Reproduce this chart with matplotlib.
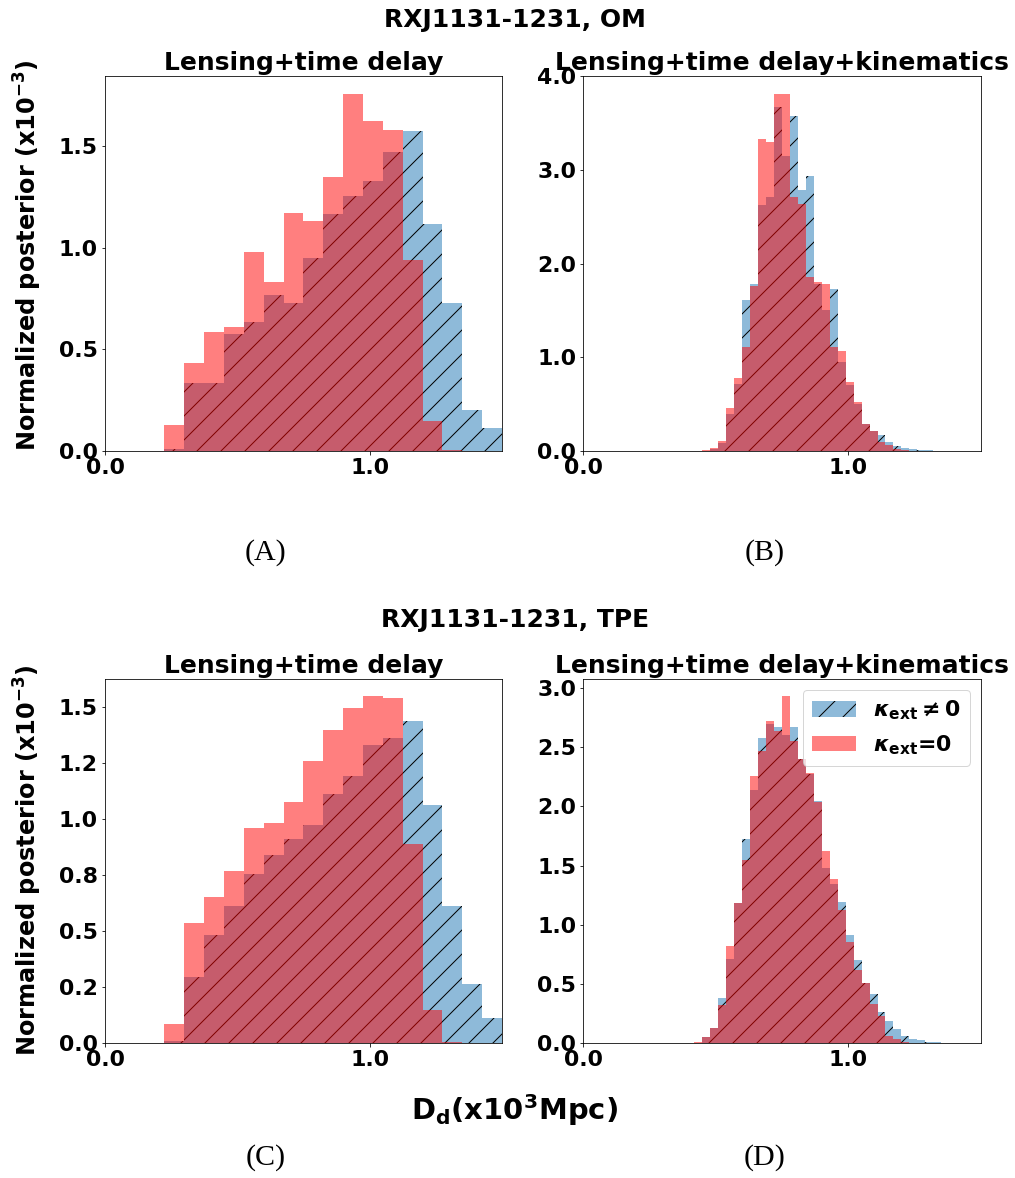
import numpy as np
import matplotlib.pyplot as plt
from matplotlib.ticker import MultipleLocator, FormatStrFormatter

plt.rcParams['font.weight'] = 'bold'
plt.rcParams['axes.titleweight'] = 'bold'

# bin edges in units of 10^3 Mpc
coarse_edges = np.linspace(0.225, 1.5, 18)
fine_edges_om = np.linspace(0.45, 1.32, 30)
fine_edges_tpe = np.linspace(0.42, 1.35, 32)

# OM model, lensing + time delay
om_td_kext = [0.01, 0.334, 0.334, 0.574, 0.633, 0.767, 0.726, 0.948, 1.164,
              1.257, 1.33, 1.469, 1.574, 1.115, 0.73, 0.2, 0.115]
om_td_k0 = [0.126, 0.433, 0.584, 0.61, 0.98, 0.834, 1.172, 1.13, 1.346,
            1.757, 1.626, 1.58, 0.938, 0.146, 0.007, 0, 0]

# OM model, lensing + time delay + kinematics
om_tdk_kext = [0.005, 0.02, 0.09, 0.40, 0.72, 1.61, 1.78, 2.62, 2.71, 3.67,
               3.15, 3.57, 2.78, 2.93, 1.78, 1.50, 1.73, 0.95, 0.70, 0.50,
               0.29, 0.21, 0.167, 0.096, 0.05, 0.03, 0.018, 0.01, 0.008]
om_tdk_k0 = [0.01, 0.03, 0.11, 0.46, 0.78, 1.11, 1.76, 3.33, 3.30, 3.81,
             3.81, 2.71, 2.64, 1.86, 1.80, 1.78, 1.11, 1.07, 0.74, 0.52,
             0.29, 0.21, 0.10, 0.06, 0.025, 0.01, 0, 0, 0]

# TPE model, lensing + time delay
tpe_td_kext = [0.01, 0.295, 0.484, 0.61, 0.755, 0.837, 0.911, 0.973, 1.11,
               1.19, 1.332, 1.36, 1.435, 1.062, 0.61, 0.264, 0.11]
tpe_td_k0 = [0.086, 0.534, 0.651, 0.766, 0.961, 0.982, 1.076, 1.26, 1.398,
             1.496, 1.547, 1.539, 0.889, 0.148, 0.005, 0, 0]

# TPE model, lensing + time delay + kinematics
tpe_tdk_kext = [0.0, 0.05, 0.126, 0.378, 0.713, 1.18, 1.72, 2.14, 2.58, 2.70,
                2.675, 2.60, 2.675, 2.40, 2.27, 2.045, 1.48, 1.34, 1.19, 0.91,
                0.70, 0.504, 0.41, 0.266, 0.19, 0.12, 0.055, 0.03, 0.022,
                0.012, 0.006]
tpe_tdk_k0 = [0.01, 0.05, 0.126, 0.322, 0.82, 1.18, 1.55, 2.26, 2.47, 2.725,
              2.64, 2.93, 2.55, 2.40, 2.28, 2.04, 1.62, 1.39, 1.12, 0.85,
              0.62, 0.504, 0.33, 0.23, 0.06, 0.03, 0.01, 0, 0, 0, 0]

panels = [
    (coarse_edges, om_td_kext, om_td_k0, 'Lensing+time delay', 0.5),
    (fine_edges_om, om_tdk_kext, om_tdk_k0, 'Lensing+time delay+kinematics', 1.0),
    (coarse_edges, tpe_td_kext, tpe_td_k0, 'Lensing+time delay', 0.25),
    (fine_edges_tpe, tpe_tdk_kext, tpe_tdk_k0, 'Lensing+time delay+kinematics', 0.5),
]

fig = plt.figure(figsize=(1015 / 72, 1178 / 72), dpi=72)
boxes = [
    [0.1034, 0.6171, 0.3911, 0.3183],
    [0.5744, 0.6171, 0.3921, 0.3183],
    [0.1034, 0.1146, 0.3911, 0.3090],
    [0.5744, 0.1146, 0.3921, 0.3090],
]

axes = []
for box, (edges, kext, k0, title, ystep) in zip(boxes, panels):
    ax = fig.add_axes(box)
    centers = 0.5 * (edges[:-1] + edges[1:])
    ax.hist(centers, bins=edges, weights=kext, color='tab:blue', alpha=0.5,
            hatch='/', label=r'$\boldsymbol{\kappa}_{\mathbf{ext}}\neq\mathbf{0}$')
    ax.hist(centers, bins=edges, weights=k0, color='red', alpha=0.5,
            label=r'$\boldsymbol{\kappa}_{\mathbf{ext}}$=0')
    ax.set_xlim(0, 1.5)
    ax.xaxis.set_major_locator(MultipleLocator(1.0))
    ax.yaxis.set_major_locator(MultipleLocator(ystep))
    ax.xaxis.set_major_formatter(FormatStrFormatter('%.1f'))
    ax.yaxis.set_major_formatter(FormatStrFormatter('%.1f'))
    ax.tick_params(labelsize=22)
    ax.set_title(title, fontsize=25, pad=6)
    axes.append(ax)

axes[3].legend(loc='upper right', fontsize=22)

ylab = r'Normalized posterior (x10$^{\mathbf{-3}}$)'
fig.text(0.027, 0.7835, ylab, rotation=90, ha='center', va='center', fontsize=24)
fig.text(0.027, 0.270, ylab, rotation=90, ha='center', va='center', fontsize=24)

fig.text(0.507, 0.983, 'RXJ1131-1231, OM', ha='center', va='center', fontsize=25)
fig.text(0.507, 0.4737, 'RXJ1131-1231, TPE', ha='center', va='center', fontsize=25)

fig.text(0.507, 0.0577, r'$\mathbf{D_d}$(x10$^{\mathbf{3}}$Mpc)',
         ha='center', va='center', fontsize=29)

for label, x, y in [('(A)', 0.262, 0.5306), ('(B)', 0.7537, 0.5306),
                    ('(C)', 0.262, 0.017), ('(D)', 0.7537, 0.017)]:
    fig.text(x, y, label, ha='center', va='center', fontsize=30,
             family='Liberation Serif', fontweight='normal')

fig.savefig('out.png', dpi=72)
